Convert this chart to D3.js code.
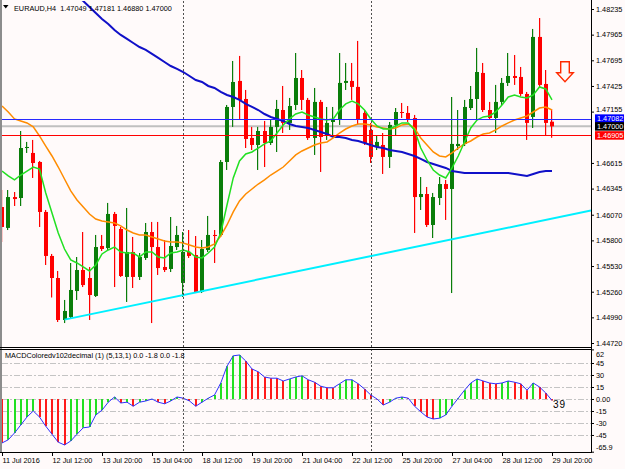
<!DOCTYPE html>
<html><head><meta charset="utf-8">
<script src="https://cdn.jsdelivr.net/npm/d3@7"></script>
<style>
html,body{margin:0;padding:0;background:#fffafa;overflow:hidden;}
svg{display:block;font-family:"Liberation Sans",Arial,sans-serif;}
</style></head><body>
<svg id="c" width="625" height="469"></svg>
<script>
// ---------- DATA (EURAUD H4, 11 Jul 2016 04:00 .. 29 Jul 2016 20:00) ----------
const open = [1.46151,1.45931,1.46256,1.46246,1.46772,1.46720,1.46625,1.46099,1.45636,1.45404,
1.44962,1.44994,1.45267,1.45488,1.45404,1.45215,1.45741,1.45720,1.46078,1.45920,
1.45415,1.45678,1.45415,1.45615,1.45888,1.45730,1.45520,1.45499,1.45730,1.45352,
1.45678,1.45646,1.45257,1.45699,1.45857,1.45857,1.46625,1.47204,1.47478,1.47288,
1.46878,1.46804,1.46951,1.46825,1.46994,1.47172,1.47036,1.47225,1.47509,1.47278,
1.46878,1.47257,1.46909,1.47046,1.47067,1.47457,1.47478,1.47415,1.47141,1.46962,
1.46783,1.46804,1.46678,1.47015,1.47151,1.47141,1.47088,1.46256,1.46288,1.45962,
1.46246,1.46393,1.46341,1.46793,1.46815,1.47193,1.47288,1.47562,1.47172,1.47088,
1.47257,1.47457,1.47530,1.47520,1.47341,1.47099,1.47941,1.47446,1.47049];
const high = [1.46330,1.46330,1.46309,1.46951,1.46836,1.46857,1.46636,1.46120,1.45657,1.45478,
1.45173,1.45562,1.45625,1.45888,1.45520,1.45857,1.45857,1.46194,1.46099,1.45941,
1.46141,1.45836,1.45667,1.45983,1.45994,1.45994,1.45804,1.46046,1.45952,1.45888,
1.45909,1.45846,1.45804,1.46057,1.45909,1.46646,1.47225,1.47688,1.47741,1.47383,
1.46994,1.46994,1.47057,1.47067,1.47278,1.47425,1.47299,1.47772,1.47593,1.47299,
1.47404,1.47278,1.47204,1.47204,1.47772,1.47667,1.47667,1.47899,1.47172,1.47036,
1.46909,1.46930,1.47046,1.47193,1.47246,1.47214,1.47120,1.46467,1.46362,1.46299,
1.46467,1.46436,1.47309,1.47172,1.47278,1.47425,1.47825,1.47667,1.47257,1.47436,
1.47509,1.47772,1.47751,1.47625,1.47362,1.48025,1.48140,1.47593,1.47181];
const low = [1.45783,1.45909,1.46162,1.46162,1.46720,1.46457,1.45941,1.45541,1.45199,1.44941,
1.44930,1.44983,1.45173,1.45309,1.44962,1.45204,1.45688,1.45699,1.45309,1.45415,
1.45152,1.45299,1.45383,1.45594,1.44930,1.45436,1.45467,1.45467,1.45699,1.45204,
1.45615,1.45246,1.45246,1.45678,1.45562,1.45836,1.46541,1.46994,1.47078,1.46772,
1.46751,1.46541,1.46572,1.46804,1.46730,1.46930,1.46962,1.47172,1.47172,1.46857,
1.46699,1.46520,1.46857,1.46888,1.47015,1.47383,1.47278,1.47015,1.46804,1.46615,
1.46751,1.46499,1.46562,1.46909,1.47088,1.47046,1.45878,1.46120,1.45941,1.45825,
1.46172,1.46015,1.45246,1.46751,1.46793,1.47172,1.47067,1.47151,1.47067,1.46930,
1.47225,1.47425,1.47436,1.47320,1.46857,1.46983,1.47404,1.46899,1.46880];
const close = [1.45941,1.46256,1.46235,1.46772,1.46783,1.46614,1.46099,1.45636,1.45404,1.44962,
1.45057,1.45278,1.45488,1.45330,1.45225,1.45730,1.45709,1.46078,1.45952,1.45425,
1.45678,1.45415,1.45625,1.45888,1.45730,1.45509,1.45488,1.45741,1.45857,1.45678,
1.45636,1.45257,1.45709,1.45857,1.45846,1.46625,1.47204,1.47467,1.47278,1.46867,
1.46804,1.46951,1.46825,1.46994,1.47183,1.47036,1.47214,1.47509,1.47278,1.46878,
1.47257,1.46888,1.47036,1.47067,1.47457,1.47478,1.47415,1.47067,1.46825,1.46678,
1.46836,1.46678,1.47015,1.47151,1.47141,1.47078,1.46256,1.46288,1.45962,1.46256,
1.46393,1.46341,1.46815,1.46815,1.47204,1.47288,1.47572,1.47172,1.47088,1.47257,
1.47457,1.47530,1.47509,1.47341,1.47036,1.47941,1.47436,1.47036,1.47000];

const maFast = [1.46530,1.46478,1.46436,1.46488,1.46530,1.46572,1.46551,1.46299,1.46088,1.45878,
1.45709,1.45594,1.45562,1.45520,1.45478,1.45541,1.45657,1.45699,1.45730,1.45678,
1.45667,1.45667,1.45625,1.45678,1.45678,1.45625,1.45615,1.45667,1.45678,1.45699,
1.45678,1.45625,1.45615,1.45667,1.45730,1.45878,1.46172,1.46457,1.46636,1.46709,
1.46730,1.46772,1.46815,1.46846,1.46930,1.47015,1.47078,1.47130,1.47151,1.47120,
1.47099,1.47078,1.47067,1.47078,1.47172,1.47236,1.47267,1.47236,1.47172,1.47078,
1.47004,1.46972,1.46972,1.47004,1.47036,1.47036,1.46962,1.46772,1.46646,1.46541,
1.46488,1.46457,1.46562,1.46688,1.46836,1.46983,1.47067,1.47099,1.47109,1.47151,
1.47225,1.47309,1.47330,1.47309,1.47299,1.47330,1.47415,1.47394,1.47278];
const maMid = [1.47214,1.47151,1.47078,1.47057,1.47036,1.46994,1.46899,1.46793,1.46688,1.46572,
1.46446,1.46320,1.46225,1.46151,1.46078,1.46025,1.46004,1.45994,1.45983,1.45952,
1.45909,1.45878,1.45857,1.45857,1.45836,1.45815,1.45794,1.45783,1.45783,1.45773,
1.45752,1.45730,1.45720,1.45730,1.45762,1.45846,1.45962,1.46099,1.46215,1.46288,
1.46341,1.46393,1.46436,1.46488,1.46530,1.46572,1.46636,1.46699,1.46741,1.46772,
1.46804,1.46825,1.46836,1.46878,1.46930,1.46972,1.47004,1.47025,1.47025,1.47015,
1.46994,1.46983,1.46972,1.46983,1.47015,1.47025,1.46983,1.46878,1.46804,1.46730,
1.46688,1.46678,1.46720,1.46772,1.46815,1.46846,1.46888,1.46920,1.46930,1.46962,
1.47004,1.47036,1.47067,1.47088,1.47109,1.47151,1.47193,1.47204,1.47172];
const maSlow = [null,null,null,null,null,null,null,null,null,null,
null,null,1.48372,1.48319,1.48256,1.48193,1.48130,1.48077,1.48014,1.47962,
1.47920,1.47877,1.47835,1.47804,1.47762,1.47720,1.47677,1.47635,1.47604,1.47572,
1.47530,1.47488,1.47467,1.47425,1.47404,1.47362,1.47330,1.47309,1.47278,1.47236,
1.47204,1.47172,1.47130,1.47099,1.47078,1.47057,1.47025,1.47004,1.46994,1.46983,
1.46962,1.46941,1.46920,1.46888,1.46888,1.46878,1.46857,1.46846,1.46825,1.46804,
1.46783,1.46772,1.46751,1.46741,1.46730,1.46709,1.46688,1.46657,1.46625,1.46604,
1.46583,1.46562,1.46530,1.46520,1.46509,1.46509,1.46509,1.46509,1.46509,1.46509,
1.46509,1.46509,1.46499,1.46488,1.46478,1.46499,1.46520,1.46530,1.46530];

const macd = [-55,-51,-42.5,-32.5,-22.5,-15,-22.5,-34,-44,-54,
-57.5,-52.5,-44,-36,-35,-20,-14,-4,2.5,-5,
-4,-9,-4,-2.5,0,-4,-6,-2.5,2.5,1,
-2.5,-9,-4,1,5,20,41,54,55,47.5,
37.5,34,27.5,26,26,22.5,25,27.5,29,24,
21,16,14,14,19,24,24,19,12.5,5,
0,-7.5,-4,1,2.5,1,-9,-16,-22.5,-25,
-24,-20,-9,1,11,20,25,22.5,20,19,
20,22.5,21,19,11,20,15,7.5,-1.8];

const timeTickIdx = [0,8,16,24,32,40,48,56,64,72,80,88];
const timeLabels = ["11 Jul 2016","12 Jul 12:00","13 Jul 20:00","15 Jul 04:00","18 Jul 12:00","19 Jul 20:00",
  "21 Jul 04:00","22 Jul 12:00","25 Jul 20:00","27 Jul 04:00","28 Jul 12:00","29 Jul 20:00"];
const priceTicks = [1.48235,1.47965,1.47695,1.47425,1.47155,1.46615,1.46345,1.46070,1.45800,1.45530,1.45260,1.44990,1.44720];
const macdTicks = [62,45,30,15,0,-15,-30,-45,-65.9];
const macdTickLabels = ["62","45","30","15","0.00","-15","-30","-45","-65.9"];
const macdGrid = [45,30,15,0,-15,-30,-45];
const weekSeparators = [29,59];
const lineBlue = 1.47082, lineBid = 1.47000, lineRed = 1.46905;
const trendA = [10,1.44966], trendB = [88,1.46030];
const headerText = "EURAUD,H4  1.47049 1.47181 1.46880 1.47000";
const macdTitle = "MACDColoredv102decimal (1) (5,13,1) 0.0 -1.8 0.0 -1.8";

// ---------- LAYOUT ----------
const W=625,H=469, R=591;
const svg=d3.select("#c");
const x=d3.scaleLinear().domain([0,88]).range([2,552]);
const y=d3.scaleLinear().domain([1.44720,1.48235]).range([343,9]);
const ym=d3.scaleLinear().domain([-65.9,62]).range([451.7,349.4]);
const FS=7.3;

svg.append("rect").attr("width",W).attr("height",H).attr("fill","#fffafa");
const defs=svg.append("defs");
defs.append("clipPath").attr("id","cm").append("rect").attr("x",2).attr("y",1).attr("width",R-2).attr("height",346);
defs.append("clipPath").attr("id","cd").append("rect").attr("x",2).attr("y",350).attr("width",R-2).attr("height",102);

const gm=svg.append("g").attr("clip-path","url(#cm)");
const gd=svg.append("g").attr("clip-path","url(#cd)");

// MACD grid
gd.selectAll("line.g").data(macdGrid).enter().append("line")
  .attr("x1",2).attr("x2",R).attr("y1",d=>Math.round(ym(d))+0.5).attr("y2",d=>Math.round(ym(d))+0.5)
  .attr("stroke","#c4c4c4").attr("stroke-dasharray","6,2,2,2");

// week separators
weekSeparators.forEach(i=>{
  const xx=Math.round(x(i))+0.5;
  svg.append("line").attr("x1",xx).attr("x2",xx).attr("y1",1).attr("y2",452)
    .attr("stroke","#505050").attr("stroke-dasharray","2,2");
});

// bid line
gm.append("line").attr("x1",2).attr("x2",R).attr("y1",y(lineBid)).attr("y2",y(lineBid))
  .attr("stroke","#c0c0c0").attr("stroke-width",2);

// candles
const idx=d3.range(open.length);
const bull="#0a7d0a", bear="#ff0000";
idx.forEach(i=>{
  const xr=Math.round(x(i));
  const up=close[i]>=open[i];
  const col=up?bull:bear;
  gm.append("rect").attr("x",xr-1).attr("width",1.2)
    .attr("y",y(high[i])).attr("height",Math.max(1,y(low[i])-y(high[i]))).attr("fill",col);
  const top=y(Math.max(open[i],close[i])), bot=y(Math.min(open[i],close[i]));
  gm.append("rect").attr("x",xr-2).attr("width",4)
    .attr("y",top).attr("height",Math.max(1,bot-top)).attr("fill",col);
});

// moving averages
const mkLine=arr=>d3.line().defined(i=>arr[i]!=null).x(i=>x(i)).y(i=>y(arr[i]))(idx);
gm.append("path").attr("d",mkLine(maSlow)).attr("fill","none").attr("stroke","#1010c8").attr("stroke-width",2);
gm.append("path").attr("d",mkLine(maMid)).attr("fill","none").attr("stroke","#ff8c00").attr("stroke-width",1.5);
gm.append("path").attr("d",mkLine(maFast)).attr("fill","none").attr("stroke","#22e022").attr("stroke-width",1.5);

// horizontal user lines
gm.append("line").attr("x1",2).attr("x2",R).attr("y1",Math.round(y(lineBlue))+0.5).attr("y2",Math.round(y(lineBlue))+0.5).attr("stroke","#2828ff");
gm.append("line").attr("x1",2).attr("x2",R).attr("y1",Math.round(y(lineRed))+0.5).attr("y2",Math.round(y(lineRed))+0.5).attr("stroke","#ff0000");

// trend line (ray)
const slope=(trendB[1]-trendA[1])/(trendB[0]-trendA[0]);
const iEnd=x.invert(R);
gm.append("line").attr("x1",x(trendA[0])).attr("y1",y(trendA[1]))
  .attr("x2",x(iEnd)).attr("y2",y(trendA[1]+slope*(iEnd-trendA[0])))
  .attr("stroke","#00f0ff").attr("stroke-width",2);

// arrow object
gm.append("path").attr("d","M560.7,61.7H569.3V72.7H573.3L565,81.7L556.7,72.7H560.7Z")
  .attr("fill","#fffafa").attr("stroke","#ff2a00").attr("stroke-width",1.4).attr("stroke-linejoin","miter");

// MACD histogram
const y0=ym(0);
idx.forEach(i=>{
  const v=macd[i], prev=i>0?macd[i-1]:v;
  const col = v>prev ? "#22e022" : (v<prev ? "#ff1a1a" : (i>0 && macd[i-1]>(i>1?macd[i-2]:0)?"#22e022":"#ff1a1a"));
  const xr=Math.round(x(i));
  gd.append("rect").attr("x",xr-1).attr("width",2)
    .attr("y",Math.min(y0,ym(v))).attr("height",Math.max(0.5,Math.abs(ym(v)-y0))).attr("fill",col);
});
gd.append("path").attr("d",d3.line().x(i=>x(i)).y(i=>ym(macd[i]))(idx))
  .attr("fill","none").attr("stroke","#3030ff").attr("stroke-width",1);

// frames
svg.append("rect").attr("x",0).attr("y",0).attr("width",2).attr("height",453).attr("fill","#8c8c8c");
svg.append("line").attr("x1",0).attr("x2",R+0.5).attr("y1",347.5).attr("y2",347.5).attr("stroke","#000");
svg.append("line").attr("x1",0).attr("x2",R+0.5).attr("y1",349.5).attr("y2",349.5).attr("stroke","#000");
svg.append("line").attr("x1",0).attr("x2",R+0.5).attr("y1",452.5).attr("y2",452.5).attr("stroke","#000");
svg.append("line").attr("x1",R+0.5).attr("x2",R+0.5).attr("y1",0).attr("y2",453).attr("stroke","#000");

// price axis
const pa=svg.append("g").attr("transform",`translate(${R},0)`)
  .call(d3.axisRight(y).tickValues(priceTicks).tickSize(3).tickPadding(2).tickFormat(d3.format(".5f")));
pa.select(".domain").remove();
pa.attr("font-size",FS).attr("font-family","Liberation Sans, Arial, sans-serif");
pa.selectAll("line").attr("stroke","#000");
pa.selectAll("text").attr("fill","#000");
// label just above the price boxes: nudge up so it stays readable
pa.selectAll("text").filter(d=>d===1.47155).attr("y",-2);

// price boxes
[[lineBlue,"#0000ff"],[lineBid,"#000000"],[lineRed,"#ff0000"]].forEach(([v,c])=>{
  svg.append("rect").attr("x",595).attr("y",y(v)-4.2).attr("width",29).attr("height",8.5).attr("fill",c);
  svg.append("text").attr("x",597).attr("y",y(v)+2.6).attr("font-size",FS).attr("fill","#fff").text(d3.format(".5f")(v));
});

// MACD axis
const ma=svg.append("g").attr("transform",`translate(${R},0)`)
  .call(d3.axisRight(ym).tickValues(macdTicks).tickSize(3).tickPadding(2).tickFormat((d,k)=>macdTickLabels[k]));
ma.select(".domain").remove();
ma.attr("font-size",FS).attr("font-family","Liberation Sans, Arial, sans-serif");
ma.selectAll("line").attr("stroke","#000");
ma.selectAll("text").attr("fill","#000");
ma.selectAll("text").filter((d,k)=>k===0).attr("y",4.5);
ma.selectAll("text").filter((d,k)=>k===macdTicks.length-1).attr("y",-4.5);

// time axis
const ta=svg.append("g").attr("transform","translate(0,452)")
  .call(d3.axisBottom(x).tickValues(timeTickIdx).tickSize(4).tickPadding(1.5).tickFormat((d,k)=>timeLabels[k]));
ta.select(".domain").remove();
ta.attr("font-size",FS).attr("font-family","Liberation Sans, Arial, sans-serif");
ta.selectAll("line").attr("stroke","#000");
ta.selectAll("text").attr("fill","#000").attr("text-anchor","start");

// header
svg.append("path").attr("d","M3,5H8.5L5.75,8.5Z").attr("fill","#000");
svg.append("text").attr("x",14).attr("y",10.5).attr("font-size",FS).attr("fill","#000").attr("xml:space","preserve").text(headerText);
svg.append("text").attr("x",5).attr("y",358).attr("font-size",FS).attr("fill","#000").text(macdTitle);
svg.append("text").attr("x",553).attr("y",408).attr("font-size",10).attr("letter-spacing",1).attr("fill","#000").text("39");
</script>
</body></html>
